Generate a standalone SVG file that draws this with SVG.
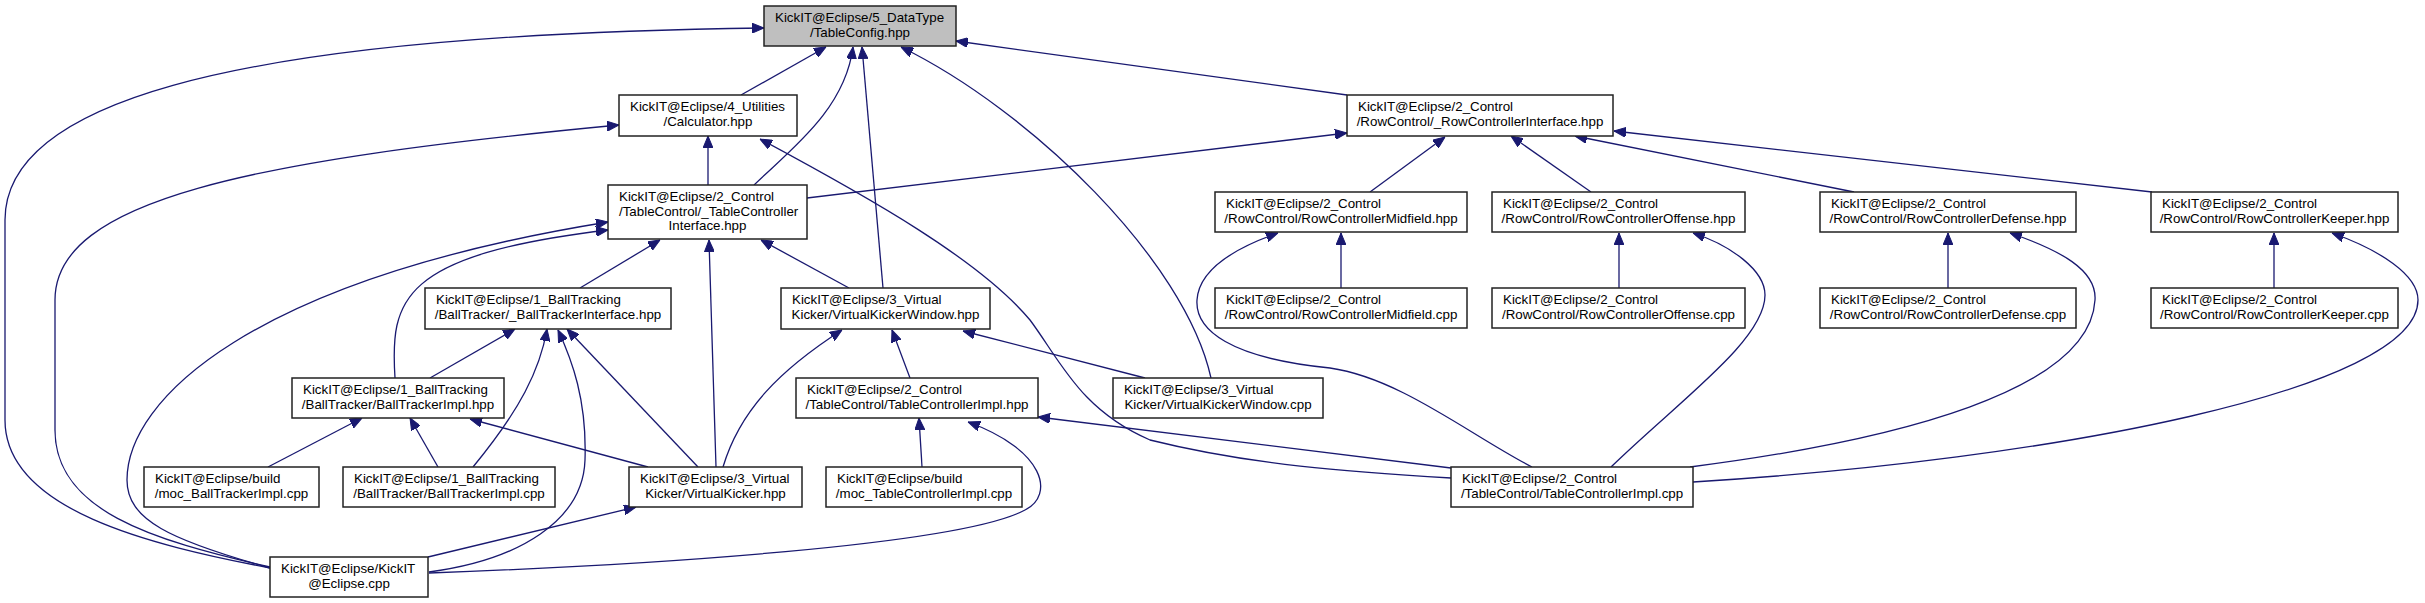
<svg xmlns="http://www.w3.org/2000/svg" width="2425" height="603" viewBox="0 0 2425 603">
<style>
.n rect{fill:#fff;stroke:#222;stroke-width:1.5}
.n text{font-family:"Liberation Sans",Arial,sans-serif;font-size:13.33px;fill:#000}
.n .c{text-anchor:middle}
#e path{fill:none;stroke:#191970;stroke-width:1.3;marker-end:url(#a)}
</style>
<defs>
<marker id="a" markerWidth="12" markerHeight="10" refX="12" refY="5" orient="auto" markerUnits="userSpaceOnUse">
<path d="M0,0 L12,5 L0,10 z" fill="#191970" stroke="#191970" stroke-width="1"/>
</marker>
</defs>
<rect width="2425" height="603" fill="#fff"/>
<g id="e">
<path d="M270,568 C150,545 5,510 5,420 L5,220 C5,110 200,35 764,28"/>
<path d="M270,567 C150,540 55,510 55,430 L55,300 C55,200 250,160 619,125"/>
<path d="M270,568 C170,540 127,520 127,480 C127,400 250,280 608,222"/>
<path d="M429,572 C520,560 583,520 585,460 C587,400 572,360 558,330"/>
<path d="M428,557 L636,507"/>
<path d="M429,573 C650,565 960,545 1025,510 C1055,495 1045,450 968,422"/>
<path d="M741,95 L826,47"/>
<path d="M754,185 C790,150 845,110 853,47"/>
<path d="M883,288 L862,47"/>
<path d="M1211,378 C1185,260 1030,110 901,47"/>
<path d="M1347,95 L956,41"/>
<path d="M708,185 L708,136"/>
<path d="M1451,478 C1350,472 1250,465 1150,440 C1080,410 1060,360 1030,320 C980,260 870,198 760,139"/>
<path d="M807,198 L1347,133"/>
<path d="M1370,192 L1445,137"/>
<path d="M1591,192 L1511,136"/>
<path d="M1854,192 L1575,136"/>
<path d="M2152,192 L1614,131"/>
<path d="M1341,288 L1341,233"/>
<path d="M1619,288 L1619,233"/>
<path d="M1948,288 L1948,233"/>
<path d="M2274,288 L2274,233"/>
<path d="M1532,467 C1470,435 1400,378 1330,368 C1230,358 1195,330 1197,300 C1199,270 1235,248 1278,233"/>
<path d="M1611,467 C1680,400 1765,340 1765,295 C1765,270 1730,245 1693,233"/>
<path d="M1690,467 C1900,440 2090,390 2095,300 C2097,270 2060,250 2010,233"/>
<path d="M1693,482 C2050,460 2418,390 2418,300 C2418,275 2380,250 2332,233"/>
<path d="M1451,468 L1038,417"/>
<path d="M849,288 L761,240"/>
<path d="M723,467 C740,410 780,370 842,330"/>
<path d="M910,378 L892,330"/>
<path d="M1145,378 L963,331"/>
<path d="M580,288 L660,240"/>
<path d="M716,467 L709,240"/>
<path d="M395,378 C390,300 400,255 608,230"/>
<path d="M430,378 L515,329"/>
<path d="M473,467 C520,410 540,370 547,329"/>
<path d="M698,467 L567,329"/>
<path d="M268,467 L362,418"/>
<path d="M438,467 L410,418"/>
<path d="M648,467 L470,419"/>
<path d="M922,467 L919,418"/>
</g>
<g id="n_tableconfig" class="n"><rect x="764" y="6" width="192" height="40" style="fill:#bfbfbf"/><text x="775" y="22">KickIT@Eclipse/5_DataType</text><text class="c" x="860" y="37">/TableConfig.hpp</text></g>
<g id="n_calculator" class="n"><rect x="619" y="95" width="178" height="41"/><text x="630" y="111">KickIT@Eclipse/4_Utilities</text><text class="c" x="708" y="126">/Calculator.hpp</text></g>
<g id="n_tci" class="n"><rect x="608" y="185" width="199" height="54"/><text x="619" y="201">KickIT@Eclipse/2_Control</text><text x="619" y="215.5">/TableControl/_TableController</text><text class="c" x="707.5" y="230">Interface.hpp</text></g>
<g id="n_rci" class="n"><rect x="1347" y="95" width="266" height="41"/><text x="1358" y="111">KickIT@Eclipse/2_Control</text><text class="c" x="1480" y="126">/RowControl/_RowControllerInterface.hpp</text></g>
<g id="n_mid_h" class="n"><rect x="1215" y="192" width="252" height="40"/><text x="1226" y="208">KickIT@Eclipse/2_Control</text><text class="c" x="1341" y="223">/RowControl/RowControllerMidfield.hpp</text></g>
<g id="n_off_h" class="n"><rect x="1492" y="192" width="253" height="40"/><text x="1503" y="208">KickIT@Eclipse/2_Control</text><text class="c" x="1618.5" y="223">/RowControl/RowControllerOffense.hpp</text></g>
<g id="n_def_h" class="n"><rect x="1820" y="192" width="256" height="40"/><text x="1831" y="208">KickIT@Eclipse/2_Control</text><text class="c" x="1948" y="223">/RowControl/RowControllerDefense.hpp</text></g>
<g id="n_kee_h" class="n"><rect x="2151" y="192" width="247" height="40"/><text x="2162" y="208">KickIT@Eclipse/2_Control</text><text class="c" x="2274.5" y="223">/RowControl/RowControllerKeeper.hpp</text></g>
<g id="n_mid_c" class="n"><rect x="1215" y="288" width="252" height="40"/><text x="1226" y="304">KickIT@Eclipse/2_Control</text><text class="c" x="1341" y="319">/RowControl/RowControllerMidfield.cpp</text></g>
<g id="n_off_c" class="n"><rect x="1492" y="288" width="253" height="40"/><text x="1503" y="304">KickIT@Eclipse/2_Control</text><text class="c" x="1618.5" y="319">/RowControl/RowControllerOffense.cpp</text></g>
<g id="n_def_c" class="n"><rect x="1820" y="288" width="256" height="40"/><text x="1831" y="304">KickIT@Eclipse/2_Control</text><text class="c" x="1948" y="319">/RowControl/RowControllerDefense.cpp</text></g>
<g id="n_kee_c" class="n"><rect x="2151" y="288" width="247" height="40"/><text x="2162" y="304">KickIT@Eclipse/2_Control</text><text class="c" x="2274.5" y="319">/RowControl/RowControllerKeeper.cpp</text></g>
<g id="n_bti" class="n"><rect x="425" y="288" width="246" height="41"/><text x="436" y="304">KickIT@Eclipse/1_BallTracking</text><text class="c" x="548" y="319">/BallTracker/_BallTrackerInterface.hpp</text></g>
<g id="n_vkw_h" class="n"><rect x="781" y="288" width="209" height="41"/><text x="792" y="304">KickIT@Eclipse/3_Virtual</text><text class="c" x="885.5" y="319">Kicker/VirtualKickerWindow.hpp</text></g>
<g id="n_bt_h" class="n"><rect x="292" y="378" width="212" height="40"/><text x="303" y="394">KickIT@Eclipse/1_BallTracking</text><text class="c" x="398" y="409">/BallTracker/BallTrackerImpl.hpp</text></g>
<g id="n_tc_h" class="n"><rect x="796" y="378" width="242" height="40"/><text x="807" y="394">KickIT@Eclipse/2_Control</text><text class="c" x="917" y="409">/TableControl/TableControllerImpl.hpp</text></g>
<g id="n_vkw_c" class="n"><rect x="1113" y="378" width="210" height="40"/><text x="1124" y="394">KickIT@Eclipse/3_Virtual</text><text class="c" x="1218" y="409">Kicker/VirtualKickerWindow.cpp</text></g>
<g id="n_moc_bt" class="n"><rect x="144" y="467" width="175" height="40"/><text x="155" y="483">KickIT@Eclipse/build</text><text class="c" x="231.5" y="498">/moc_BallTrackerImpl.cpp</text></g>
<g id="n_bt_c" class="n"><rect x="343" y="467" width="212" height="40"/><text x="354" y="483">KickIT@Eclipse/1_BallTracking</text><text class="c" x="449" y="498">/BallTracker/BallTrackerImpl.cpp</text></g>
<g id="n_vk_h" class="n"><rect x="629" y="467" width="173" height="40"/><text x="640" y="483">KickIT@Eclipse/3_Virtual</text><text class="c" x="715.5" y="498">Kicker/VirtualKicker.hpp</text></g>
<g id="n_moc_tc" class="n"><rect x="826" y="467" width="196" height="40"/><text x="837" y="483">KickIT@Eclipse/build</text><text class="c" x="924" y="498">/moc_TableControllerImpl.cpp</text></g>
<g id="n_tc_c" class="n"><rect x="1451" y="467" width="242" height="40"/><text x="1462" y="483">KickIT@Eclipse/2_Control</text><text class="c" x="1572" y="498">/TableControl/TableControllerImpl.cpp</text></g>
<g id="n_kickit" class="n"><rect x="270" y="557" width="158" height="40"/><text x="281" y="573">KickIT@Eclipse/KickIT</text><text class="c" x="349" y="588">@Eclipse.cpp</text></g>
</svg>
